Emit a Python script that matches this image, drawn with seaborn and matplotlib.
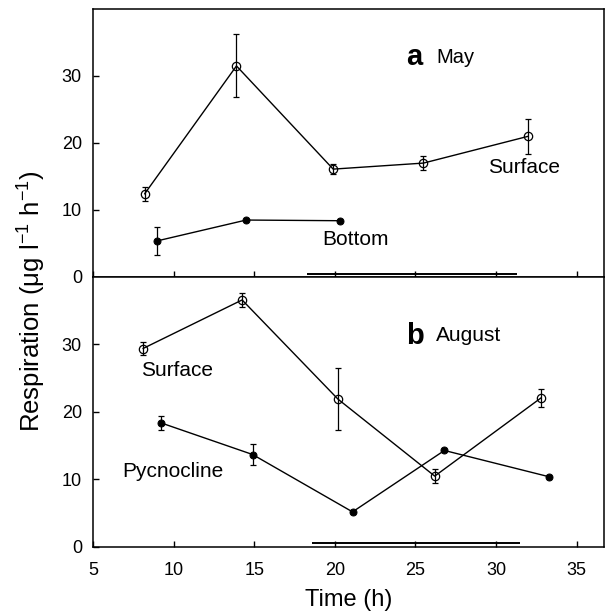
import matplotlib
matplotlib.use("Agg")
import matplotlib.pyplot as plt
import seaborn as sns
import pandas as pd

# data
may_surface_t = [8.2, 13.9, 19.9, 25.5, 32.0]
may_surface_r = [12.4, 31.5, 16.1, 17.0, 21.0]
may_surface_err = [1.0, 4.7, 0.7, 1.1, 2.6]

may_bottom_t = [9.0, 14.5, 20.3]
may_bottom_r = [5.4, 8.5, 8.4]
may_bottom_err = [2.1, 0.0, 0.0]

aug_surface_t = [8.1, 14.25, 20.2, 26.2, 32.8]
aug_surface_r = [29.4, 36.6, 21.9, 10.5, 22.1]
aug_surface_err = [1.0, 1.0, 4.6, 1.0, 1.3]

aug_pycno_t = [9.2, 14.9, 21.1, 26.8, 33.3]
aug_pycno_r = [18.4, 13.7, 5.2, 14.3, 10.4]
aug_pycno_err = [1.0, 1.5, 0.0, 0.0, 0.0]

# dark period bars
night_may = [18.3, 31.3]
night_aug = [18.6, 31.5]

x_ticks = [5, 10, 15, 20, 25, 30, 35]
y_ticks = [0, 10, 20, 30]

sns.set_style("ticks")
plt.rcParams['font.family'] = ['Liberation Sans', 'DejaVu Sans']
plt.rcParams['mathtext.fontset'] = 'custom'
plt.rcParams['mathtext.rm'] = 'Liberation Sans'
plt.rcParams['mathtext.default'] = 'rm'
plt.rcParams['text.color'] = 'black'
plt.rcParams['axes.labelcolor'] = 'black'
plt.rcParams['axes.edgecolor'] = 'black'
plt.rcParams['xtick.color'] = 'black'
plt.rcParams['ytick.color'] = 'black'
plt.rcParams['xtick.direction'] = 'in'
plt.rcParams['ytick.direction'] = 'in'
plt.rcParams['axes.linewidth'] = 1.1

fig = plt.figure(figsize=(6.09, 6.15), dpi=100)
ax1 = fig.add_axes([0.1527, 0.5496, 0.8391, 0.4358])
ax2 = fig.add_axes([0.1527, 0.1106, 0.8391, 0.4390], sharex=ax1)


def draw_series(ax, t, r, err, filled):
    df = pd.DataFrame({'t': t, 'r': r})
    if filled:
        sns.lineplot(data=df, x='t', y='r', ax=ax, color='black', lw=1,
                     marker='o', ms=5, mfc='black', mec='black')
    else:
        sns.lineplot(data=df, x='t', y='r', ax=ax, color='black', lw=1,
                     marker='o', ms=6, mfc='none', mec='black', mew=0.9)
    ax.errorbar(t, r, yerr=err, fmt='none', ecolor='black', elinewidth=0.9,
                capsize=2, capthick=0.9)


draw_series(ax1, may_surface_t, may_surface_r, may_surface_err, False)
draw_series(ax1, may_bottom_t, may_bottom_r, may_bottom_err, True)
ax1.hlines(0.45, night_may[0], night_may[1], color='black', lw=1.4)

draw_series(ax2, aug_surface_t, aug_surface_r, aug_surface_err, False)
draw_series(ax2, aug_pycno_t, aug_pycno_r, aug_pycno_err, True)
ax2.hlines(0.6, night_aug[0], night_aug[1], color='black', lw=1.4)

for ax in (ax1, ax2):
    ax.set_xlim(5, 36.7)
    ax.set_ylim(0, 40)
    ax.set_xticks(x_ticks)
    ax.set_yticks(y_ticks)
    ax.tick_params(labelsize=13, length=4, width=1, pad=8)
    ax.set_xlabel('')
    ax.set_ylabel('')

ax1.tick_params(labelbottom=False)
ax2.tick_params(axis='x', pad=11)
ax2.set_xlabel('Time (h)', fontsize=17, labelpad=7)

# panel labels
ax1.text(24.4, 32.8, 'a', fontsize=21, fontweight='bold', va='center')
ax1.text(26.3, 32.8, 'May', fontsize=14.5, va='center')
ax1.text(29.5, 16.4, 'Surface', fontsize=15, va='center')
ax1.text(19.2, 5.6, 'Bottom', fontsize=15, va='center')

ax2.text(24.4, 31.3, 'b', fontsize=21, fontweight='bold', va='center')
ax2.text(26.3, 31.3, 'August', fontsize=15, va='center')
ax2.text(8.0, 26.1, 'Surface', fontsize=15, va='center')
ax2.text(6.8, 11.2, 'Pycnocline', fontsize=15, va='center')

fig.text(0.053, 0.51, 'Respiration (μg l$^{-1}$ h$^{-1}$)', fontsize=18.5,
         rotation=90, va='center', ha='center')

fig.savefig('out.png', dpi=100)
